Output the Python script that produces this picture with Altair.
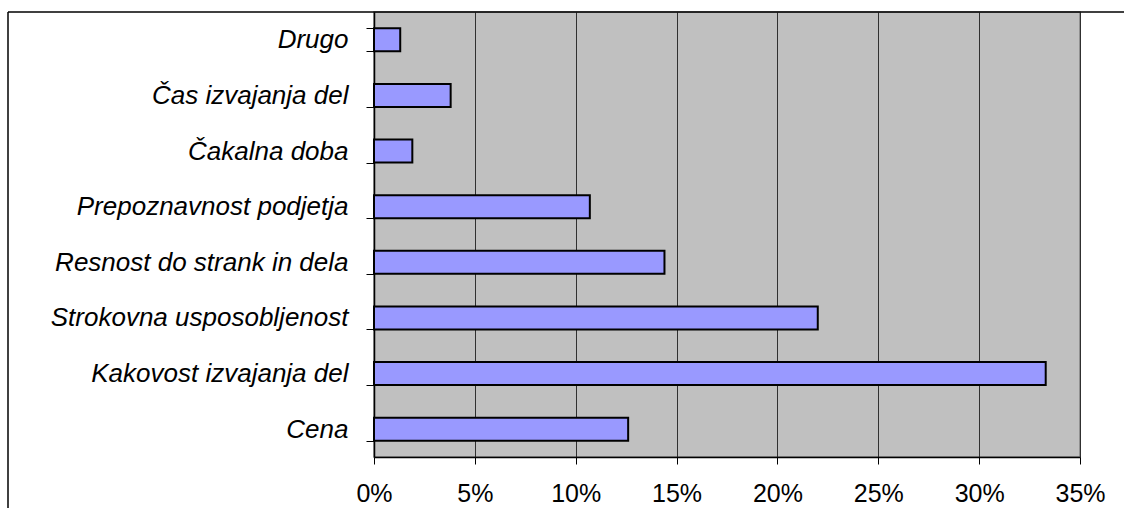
import altair as alt
import pandas as pd

# Survey shares (percent) for each factor, listed top to bottom
categories = [
    "Drugo",
    "Čas izvajanja del",
    "Čakalna doba",
    "Prepoznavnost podjetja",
    "Resnost do strank in dela",
    "Strokovna usposobljenost",
    "Kakovost izvajanja del",
    "Cena",
]
shares = [1.3, 3.8, 1.9, 10.7, 14.4, 22.0, 33.3, 12.6]
tick_values = [0, 5, 10, 15, 20, 25, 30, 35]

df = pd.DataFrame({"factor": categories, "share": shares})

FONT = "Liberation Sans"

bars = alt.Chart(df).mark_bar(
    color="#9999FF", stroke="#000000", strokeWidth=2
).encode(
    x=alt.X(
        "share:Q",
        scale=alt.Scale(domain=[0, 35], nice=False, zero=True),
        axis=alt.Axis(
            values=tick_values,
            labelExpr="datum.value + '%'",
            title=None,
            grid=True,
            gridColor="#303030",
            gridWidth=1,
            domainColor="#000000",
            domainWidth=1.5,
            tickColor="#000000",
            tickSize=7,
            labelFont=FONT,
            labelFontSize=25,
            labelColor="#000000",
            labelPadding=17,
            labelFlush=False,
            labelOverlap=False,
        ),
    ),
    y=alt.Y(
        "factor:N",
        sort=categories,
        scale=alt.Scale(paddingInner=0.586, paddingOuter=0.293),
        axis=alt.Axis(
            title=None,
            grid=False,
            tickBand="extent",
            domainColor="#000000",
            domainWidth=1.5,
            tickColor="#000000",
            tickSize=8,
            labelFont=FONT,
            labelFontSize=26,
            labelFontStyle="italic",
            labelColor="#000000",
            labelPadding=18,
            labelLimit=400,
        ),
    ),
)

# Outer frame of the chart object (left and top edges)
frame_df = pd.DataFrame({"k": [0]})
frame_left = alt.Chart(frame_df).mark_rule(color="#000000", strokeWidth=1.5).encode(
    x=alt.value(-366), y=alt.value(0), y2=alt.value(600)
)
frame_top = alt.Chart(frame_df).mark_rule(color="#000000", strokeWidth=1.5).encode(
    x=alt.value(-366), x2=alt.value(800), y=alt.value(0)
)

chart = alt.layer(bars, frame_left, frame_top).properties(
    width=706,
    height=445,
    padding={"left": 374, "top": 12, "right": 44, "bottom": 51},
    autosize=alt.AutoSizeParams(type="none"),
    background="#FFFFFF",
).configure_view(
    fill="#C0C0C0", stroke="#808080", strokeWidth=1.5
)

chart.save("out.html", embed_options={"renderer": "svg", "actions": False})
